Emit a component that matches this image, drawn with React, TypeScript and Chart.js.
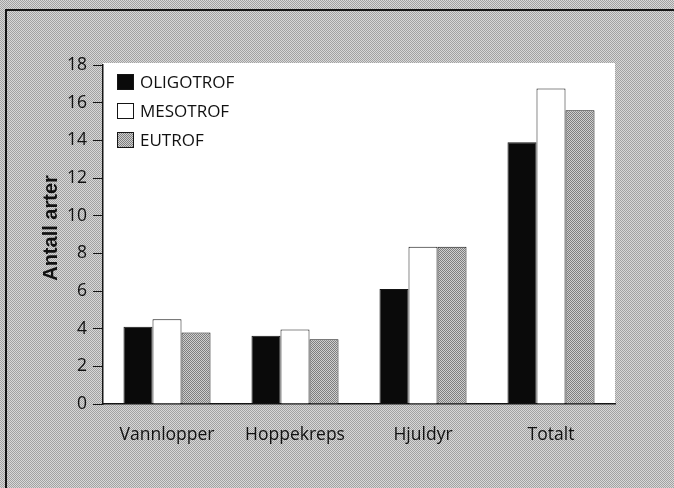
import React, { useEffect, useRef } from "react";
import { Chart, registerables } from "chart.js";

Chart.register(...registerables);

const categories = ["Vannlopper", "Hoppekreps", "Hjuldyr", "Totalt"];
const seriesNames = ["OLIGOTROF", "MESOTROF", "EUTROF"];
const oligotrof = [4.1, 3.63, 6.1, 13.9];
const mesotrof = [4.5, 3.95, 8.35, 16.75];
const eutrof = [3.8, 3.44, 8.35, 15.6];
const yTicks = [0, 2, 4, 6, 8, 10, 12, 14, 16, 18];
const yTitle = "Antall arter";

function makePattern(a: string, b: string): CanvasPattern | string {
  const c = document.createElement("canvas");
  c.width = 2;
  c.height = 2;
  const x = c.getContext("2d");
  if (!x) return a;
  x.fillStyle = a;
  x.fillRect(0, 0, 2, 2);
  x.fillStyle = b;
  x.fillRect(0, 0, 1, 1);
  x.fillRect(1, 1, 1, 1);
  const p = x.createPattern(c, "repeat");
  return p || a;
}

export default function App() {
  const ref = useRef<HTMLCanvasElement | null>(null);

  useEffect(() => {
    document.body.style.margin = "0";
    const canvas = ref.current;
    if (!canvas) return;
    const bgPattern = makePattern("#d8d8d8", "#a2a2a2");
    const eutPattern = makePattern("#cfcfcf", "#7e7e7e");

    const decor = {
      id: "decor",
      beforeDraw(chart: any) {
        const ctx = chart.ctx;
        const a = chart.chartArea;
        ctx.save();
        ctx.fillStyle = bgPattern;
        ctx.fillRect(0, 0, chart.width, chart.height);
        ctx.strokeStyle = "#151515";
        ctx.lineWidth = 2;
        ctx.beginPath();
        ctx.moveTo(6, chart.height);
        ctx.lineTo(6, 10);
        ctx.lineTo(chart.width, 10);
        ctx.stroke();
        ctx.fillStyle = "#ffffff";
        ctx.fillRect(a.left, a.top - 2, a.right - a.left, a.bottom - a.top + 2);
        ctx.restore();
      },
      afterDraw(chart: any) {
        const ctx = chart.ctx;
        ctx.save();
        chart.data.datasets.forEach((ds: any, i: number) => {
          const y = 82 + i * 29;
          ctx.fillStyle = ds.backgroundColor;
          ctx.fillRect(117, y - 8, 17, 16);
          ctx.strokeStyle = "#151515";
          ctx.lineWidth = 1;
          ctx.strokeRect(117.5, y - 7.5, 16, 15);
          ctx.fillStyle = "#111111";
          ctx.font = '17px "Open Sans"';
          ctx.textAlign = "left";
          ctx.textBaseline = "middle";
          ctx.fillText(ds.label, 140, y + 1);
        });
        ctx.translate(51, 228);
        ctx.rotate(-Math.PI / 2);
        ctx.font = 'bold 20px "Liberation Sans"';
        ctx.textAlign = "center";
        ctx.textBaseline = "middle";
        ctx.fillStyle = "#111111";
        ctx.fillText(yTitle, 0, 0);
        ctx.restore();
      },
    };

    const chart = new Chart(canvas, {
      type: "bar",
      data: {
        labels: categories,
        datasets: [
          { label: seriesNames[0], data: oligotrof, backgroundColor: "#0a0a0a", borderColor: "#151515", borderWidth: 1 },
          { label: seriesNames[1], data: mesotrof, backgroundColor: "#ffffff", borderColor: "#151515", borderWidth: 1 },
          { label: seriesNames[2], data: eutrof, backgroundColor: eutPattern as any, borderColor: "#151515", borderWidth: 1 },
        ],
      },
      options: {
        responsive: false,
        animation: false,
        devicePixelRatio: 1,
        layout: { padding: { top: 65, right: 59, left: 0, bottom: 0 } },
        datasets: { bar: { barPercentage: 1, categoryPercentage: 0.68 } },
        plugins: { legend: { display: false }, tooltip: { enabled: false }, title: { display: false } },
        scales: {
          x: {
            grid: { display: false },
            border: { display: true, color: "#151515", width: 1.5 },
            ticks: { font: { family: "Open Sans", size: 17.5 }, color: "#111111", padding: 13, maxRotation: 0 },
            afterFit: (s: any) => {
              s.height = 84;
            },
          },
          y: {
            min: 0,
            max: 18,
            afterBuildTicks: (s: any) => {
              s.ticks = yTicks.map((v) => ({ value: v }));
            },
            grid: { drawOnChartArea: false, drawTicks: true, tickLength: 10, color: "#151515" },
            border: { display: true, color: "#151515", width: 1.5 },
            ticks: { font: { family: "Open Sans", size: 17.5 }, color: "#111111", padding: 6 },
            afterFit: (s: any) => {
              s.width = 103;
            },
          },
        },
      },
      plugins: [decor],
    });
    return () => chart.destroy();
  }, []);

  return (
    <div style={{ width: 674, height: 488 }}>
      <canvas ref={ref} width={674} height={488} style={{ display: "block", width: 674, height: 488 }} />
    </div>
  );
}
